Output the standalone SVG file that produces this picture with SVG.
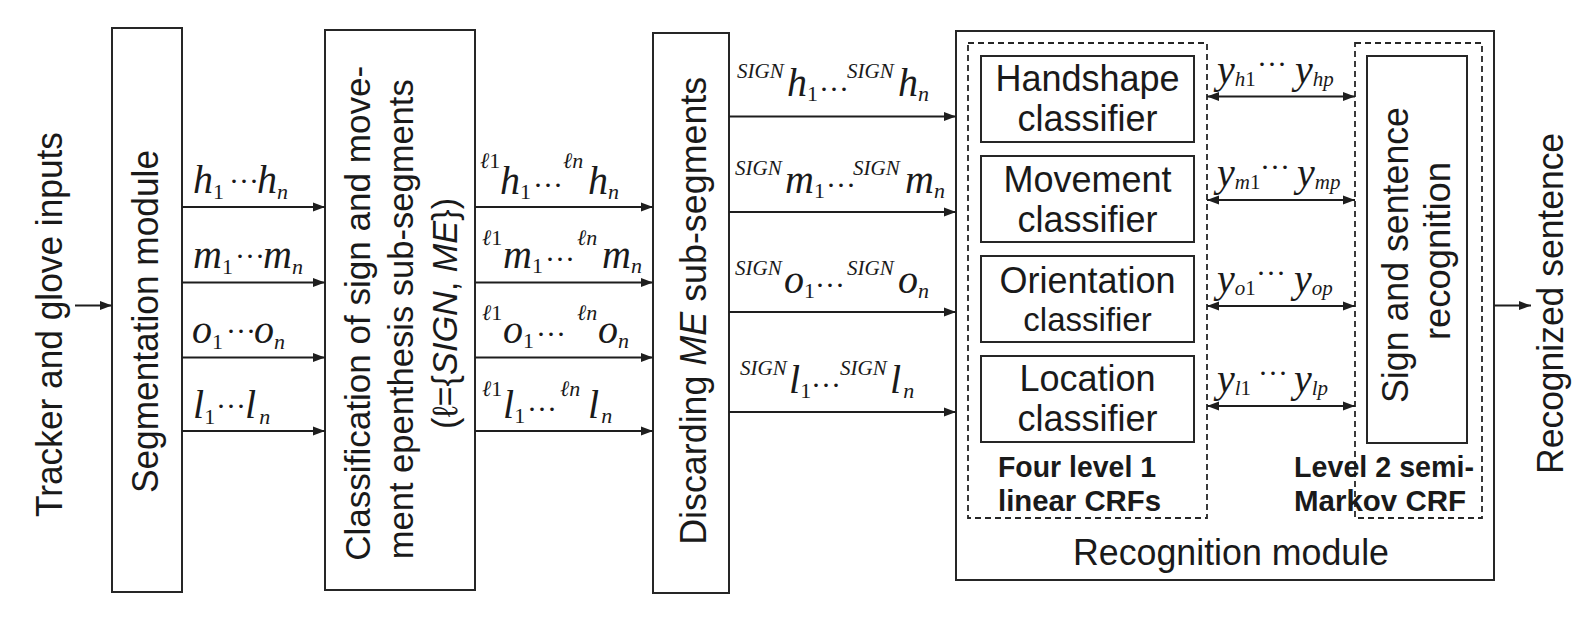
<svg xmlns="http://www.w3.org/2000/svg" width="1591" height="620" viewBox="0 0 1591 620">
<defs>
<style>
.box{fill:none;stroke:#262626;stroke-width:2}
.dash{fill:none;stroke:#262626;stroke-width:1.8;stroke-dasharray:6 4}
.conn line{stroke:#1e1e1e;stroke-width:2}
.t{font-family:"Liberation Sans",Arial,sans-serif;fill:#1a1a1a}
.b{font-family:"Liberation Sans",Arial,sans-serif;font-weight:bold;font-size:29px;fill:#1a1a1a}
.m{font-family:"Liberation Serif","Times New Roman",serif;font-style:italic;font-size:40px;fill:#1a1a1a}
.s{font-size:22px;font-style:normal}
.si{font-size:22px}
.sg{font-size:21px}
.d{font-size:30px;font-style:normal}
.ys{font-size:21px}
.ysn{font-size:21px;font-style:normal}
</style>
<marker id="ah" markerWidth="12" markerHeight="10" refX="12" refY="5" orient="auto-start-reverse" markerUnits="userSpaceOnUse">
<path d="M0,0.5 L12,5 L0,9.5 z" fill="#1e1e1e"/>
</marker>
</defs>
<rect width="1591" height="620" fill="#fff"/>

<g id="tracker-input">
<text class="t" font-size="36" text-anchor="middle" textLength="385" lengthAdjust="spacingAndGlyphs" transform="translate(62,324.5) rotate(-90)">Tracker and glove inputs</text>
</g>

<g id="segmentation">
<rect class="box" x="112" y="28" width="70" height="564"/>
<text class="t" font-size="36" text-anchor="middle" textLength="343" lengthAdjust="spacingAndGlyphs" transform="translate(158,321.5) rotate(-90)">Segmentation module</text>
</g>

<g id="classification">
<rect class="box" x="325" y="30" width="150" height="560"/>
<text class="t" font-size="35" text-anchor="middle" textLength="495" lengthAdjust="spacingAndGlyphs" transform="translate(370,313.3) rotate(-90)">Classification of sign and move-</text>
<text class="t" font-size="35" text-anchor="middle" textLength="480" lengthAdjust="spacingAndGlyphs" transform="translate(413,319.3) rotate(-90)">ment epenthesis sub-segments</text>
<text class="t" font-size="35" text-anchor="middle" textLength="231" lengthAdjust="spacingAndGlyphs" transform="translate(457,313.4) rotate(-90)">(ℓ={<tspan font-style="italic">SIGN</tspan>, <tspan font-style="italic">ME</tspan>})</text>
</g>

<g id="discarding">
<rect class="box" x="653" y="33" width="76" height="560"/>
<text class="t" font-size="36" text-anchor="middle" textLength="468" lengthAdjust="spacingAndGlyphs" transform="translate(706,310.8) rotate(-90)">Discarding <tspan font-style="italic">ME</tspan> sub-segments</text>
</g>

<g id="recognition">
<rect class="box" x="956" y="31" width="538" height="549"/>
<text class="t" font-size="36" text-anchor="middle" textLength="316" lengthAdjust="spacingAndGlyphs" x="1231" y="565">Recognition module</text>
</g>

<g id="level1-crfs">
<rect class="dash" x="968" y="43" width="239" height="475"/>
<text class="b" x="998" y="477" textLength="158" lengthAdjust="spacingAndGlyphs">Four level 1</text>
<text class="b" x="998" y="511" textLength="163" lengthAdjust="spacingAndGlyphs">linear CRFs</text>
</g>

<g id="handshape-classifier">
<rect class="box" x="981" y="56" width="213" height="86"/>
<text class="t" font-size="36" text-anchor="middle" x="1087.5" y="90.5">Handshape</text>
<text class="t" font-size="36" text-anchor="middle" x="1087.5" y="131">classifier</text>
</g>
<g id="movement-classifier">
<rect class="box" x="981" y="156" width="213" height="86"/>
<text class="t" font-size="36" text-anchor="middle" x="1087.5" y="192">Movement</text>
<text class="t" font-size="36" text-anchor="middle" x="1087.5" y="231.5">classifier</text>
</g>
<g id="orientation-classifier">
<rect class="box" x="981" y="256" width="213" height="86"/>
<text class="t" font-size="36" text-anchor="middle" x="1087.5" y="292.5">Orientation</text>
<text class="t" font-size="33" text-anchor="middle" x="1087.5" y="331">classifier</text>
</g>
<g id="location-classifier">
<rect class="box" x="981" y="356" width="213" height="86"/>
<text class="t" font-size="36" text-anchor="middle" x="1087.5" y="391">Location</text>
<text class="t" font-size="36" text-anchor="middle" x="1087.5" y="431">classifier</text>
</g>

<g id="level2-crf">
<rect class="dash" x="1355" y="43" width="127" height="475"/>
<text class="b" x="1294" y="477" textLength="180" lengthAdjust="spacingAndGlyphs">Level 2 semi-</text>
<text class="b" x="1294" y="511" textLength="172" lengthAdjust="spacingAndGlyphs">Markov CRF</text>
</g>

<g id="sign-sentence-recognition">
<rect class="box" x="1367" y="56" width="100" height="387"/>
<text class="t" font-size="36" text-anchor="middle" textLength="296" lengthAdjust="spacingAndGlyphs" transform="translate(1408,255) rotate(-90)">Sign and sentence</text>
<text class="t" font-size="36" text-anchor="middle" textLength="178" lengthAdjust="spacingAndGlyphs" transform="translate(1450,251) rotate(-90)">recognition</text>
</g>

<g id="recognized-sentence">
<text class="t" font-size="36" text-anchor="middle" textLength="341" lengthAdjust="spacingAndGlyphs" transform="translate(1563,303.4) rotate(-90)">Recognized sentence</text>
</g>

<g id="connectors" class="conn">
<line x1="75" y1="305.5" x2="112" y2="305.5" marker-end="url(#ah)"/>
<line x1="182" y1="207" x2="325" y2="207" marker-end="url(#ah)"/>
<line x1="182" y1="282.5" x2="325" y2="282.5" marker-end="url(#ah)"/>
<line x1="182" y1="357.5" x2="325" y2="357.5" marker-end="url(#ah)"/>
<line x1="182" y1="431" x2="325" y2="431" marker-end="url(#ah)"/>
<line x1="475" y1="207" x2="653" y2="207" marker-end="url(#ah)"/>
<line x1="475" y1="282.5" x2="653" y2="282.5" marker-end="url(#ah)"/>
<line x1="475" y1="357.5" x2="653" y2="357.5" marker-end="url(#ah)"/>
<line x1="475" y1="431" x2="653" y2="431" marker-end="url(#ah)"/>
<line x1="729" y1="116.5" x2="956" y2="116.5" marker-end="url(#ah)"/>
<line x1="729" y1="212" x2="956" y2="212" marker-end="url(#ah)"/>
<line x1="729" y1="312" x2="956" y2="312" marker-end="url(#ah)"/>
<line x1="729" y1="412" x2="956" y2="412" marker-end="url(#ah)"/>
<line x1="1207" y1="96.5" x2="1355" y2="96.5" marker-start="url(#ah)" marker-end="url(#ah)"/>
<line x1="1207" y1="200" x2="1355" y2="200" marker-start="url(#ah)" marker-end="url(#ah)"/>
<line x1="1207" y1="306" x2="1355" y2="306" marker-start="url(#ah)" marker-end="url(#ah)"/>
<line x1="1207" y1="406" x2="1355" y2="406" marker-start="url(#ah)" marker-end="url(#ah)"/>
<line x1="1494" y1="305.5" x2="1531" y2="305.5" marker-end="url(#ah)"/>
</g>

<g id="connector-labels">
<text class="m"><tspan x="193" y="193">h</tspan><tspan class="s" y="199">1</tspan><tspan class="d" x="229" y="191">···</tspan><tspan x="257" y="193">h</tspan><tspan class="si" y="199">n</tspan></text>
<text class="m"><tspan x="193" y="268">m</tspan><tspan class="s" y="274">1</tspan><tspan class="d" x="235" y="266">···</tspan><tspan x="263" y="268">m</tspan><tspan class="si" y="274">n</tspan></text>
<text class="m"><tspan x="192" y="343">o</tspan><tspan class="s" y="349">1</tspan><tspan class="d" x="226" y="341">···</tspan><tspan x="254" y="343">o</tspan><tspan class="si" y="349">n</tspan></text>
<text class="m"><tspan x="193" y="418">l</tspan><tspan class="s" y="424">1</tspan><tspan class="d" x="216" y="416">···</tspan><tspan x="245" y="418">l</tspan><tspan class="si" dx="3" y="424">n</tspan></text>

<text class="m"><tspan class="si" x="480" y="168">ℓ</tspan><tspan class="s" y="168">1</tspan><tspan x="500" y="194">h</tspan><tspan class="s" y="199">1</tspan><tspan class="d" x="533" y="195">···</tspan><tspan class="si" x="563" y="168">ℓn</tspan><tspan x="588" y="194">h</tspan><tspan class="si" y="199">n</tspan></text>
<text class="m"><tspan class="si" x="482" y="245">ℓ</tspan><tspan class="s" y="245">1</tspan><tspan x="503" y="268">m</tspan><tspan class="s" y="273">1</tspan><tspan class="d" x="545" y="269">···</tspan><tspan class="si" x="577" y="245">ℓn</tspan><tspan x="602" y="268">m</tspan><tspan class="si" y="273">n</tspan></text>
<text class="m"><tspan class="si" x="482" y="320">ℓ</tspan><tspan class="s" y="320">1</tspan><tspan x="503" y="343">o</tspan><tspan class="s" y="348">1</tspan><tspan class="d" x="536" y="344">···</tspan><tspan class="si" x="577" y="320">ℓn</tspan><tspan x="598" y="343">o</tspan><tspan class="si" y="348">n</tspan></text>
<text class="m"><tspan class="si" x="482" y="396">ℓ</tspan><tspan class="s" y="396">1</tspan><tspan x="503" y="418">l</tspan><tspan class="s" y="423">1</tspan><tspan class="d" x="527" y="419">···</tspan><tspan class="si" x="560" y="396">ℓn</tspan><tspan x="588" y="418">l</tspan><tspan class="si" dx="2" y="423">n</tspan></text>

<text class="m"><tspan class="sg" x="737" y="78">SIGN</tspan><tspan x="787" y="96">h</tspan><tspan class="s" y="101">1</tspan><tspan class="d" x="819" y="99">···</tspan><tspan class="sg" x="847" y="78">SIGN</tspan><tspan x="898" y="96">h</tspan><tspan class="si" y="101">n</tspan></text>
<text class="m"><tspan class="sg" x="735" y="175">SIGN</tspan><tspan x="785" y="193">m</tspan><tspan class="s" y="198">1</tspan><tspan class="d" x="826" y="195">···</tspan><tspan class="sg" x="853" y="175">SIGN</tspan><tspan x="905" y="193">m</tspan><tspan class="si" y="198">n</tspan></text>
<text class="m"><tspan class="sg" x="735" y="275">SIGN</tspan><tspan x="784" y="293">o</tspan><tspan class="s" y="298">1</tspan><tspan class="d" x="815" y="295">···</tspan><tspan class="sg" x="847" y="275">SIGN</tspan><tspan x="898" y="293">o</tspan><tspan class="si" y="298">n</tspan></text>
<text class="m"><tspan class="sg" x="740" y="375">SIGN</tspan><tspan x="789" y="393">l</tspan><tspan class="s" y="398">1</tspan><tspan class="d" x="811" y="395">···</tspan><tspan class="sg" x="840" y="375">SIGN</tspan><tspan x="890" y="393">l</tspan><tspan class="si" dx="2" y="398">n</tspan></text>

<text class="m"><tspan x="1217" y="83">y</tspan><tspan class="ys" y="86">h</tspan><tspan class="ysn" y="86">1</tspan><tspan class="d" x="1257" y="74">···</tspan><tspan x="1295" y="83">y</tspan><tspan class="ys" y="86">hp</tspan></text>
<text class="m"><tspan x="1217" y="186">y</tspan><tspan class="ys" y="189">m</tspan><tspan class="ysn" y="189">1</tspan><tspan class="d" x="1260" y="177">···</tspan><tspan x="1297" y="186">y</tspan><tspan class="ys" y="189">mp</tspan></text>
<text class="m"><tspan x="1217" y="292">y</tspan><tspan class="ys" y="295">o</tspan><tspan class="ysn" y="295">1</tspan><tspan class="d" x="1256" y="283">···</tspan><tspan x="1294" y="292">y</tspan><tspan class="ys" y="295">op</tspan></text>
<text class="m"><tspan x="1217" y="392">y</tspan><tspan class="ys" y="395">l</tspan><tspan class="ysn" y="395">1</tspan><tspan class="d" x="1258" y="383">···</tspan><tspan x="1294" y="392">y</tspan><tspan class="ys" y="395">lp</tspan></text>
</g>
</svg>
